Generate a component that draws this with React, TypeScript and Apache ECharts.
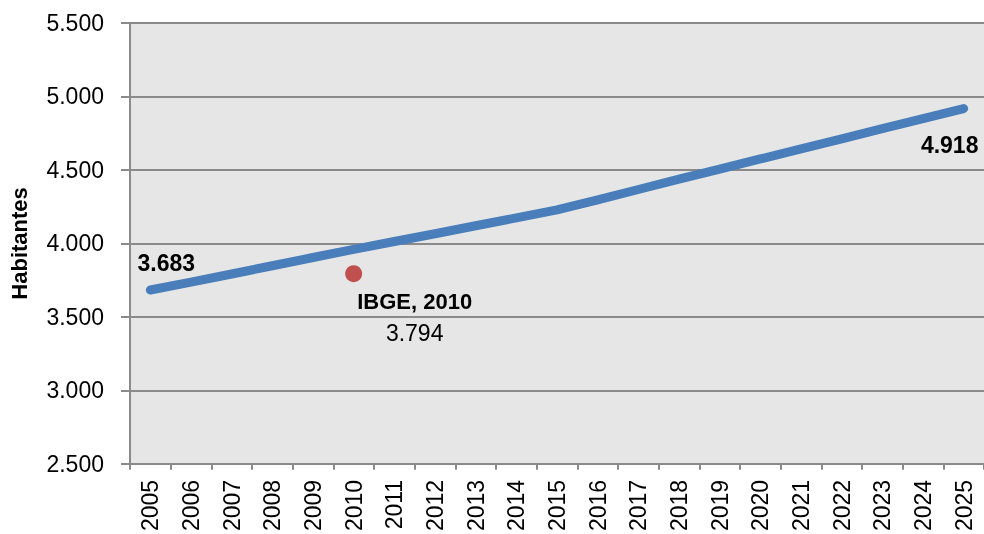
import React, { useEffect, useRef } from "react";
import * as echarts from "echarts";

const years = ["2005","2006","2007","2008","2009","2010","2011","2012","2013","2014","2015","2016","2017","2018","2019","2020","2021","2022","2023","2024","2025"];
const population = [3683,3737,3792,3848,3904,3960,4013,4066,4120,4174,4228,4297,4367,4437,4506,4575,4643,4712,4781,4849,4918];
const censusYear = "2010";
const censusValue = 3794;
const censusLabel = "IBGE, 2010";
const yTicks = { min: 2500, max: 5500, interval: 500 };

const fmt = (v: number) => String(v).replace(/\B(?=(\d{3})+(?!\d))/g, ".");

export default function App() {
  const ref = useRef<HTMLDivElement>(null);
  useEffect(() => {
    if (!ref.current) return;
    const chart = echarts.init(ref.current, null, { renderer: "svg" });
    const font = "Liberation Sans";
    const last = population.length - 1;
    const lineData = population.map((v, i) => {
      if (i === 0) {
        return { value: v, label: { show: true, position: "top", formatter: fmt(v), fontWeight: "bold", fontSize: 23, color: "#000", fontFamily: font } };
      }
      if (i === last) {
        return { value: v, label: { show: true, position: "bottom", formatter: fmt(v), fontWeight: "bold", fontSize: 23, color: "#000", fontFamily: font } };
      }
      return { value: v };
    });
    chart.setOption({
      animation: false,
      grid: { left: 130, top: 23, width: 860, height: 441, show: true, backgroundColor: "#e6e6e6", borderWidth: 0 },
      xAxis: {
        type: "category",
        data: years,
        boundaryGap: true,
        axisLine: { show: true, lineStyle: { color: "#8a8a8a", width: 2 } },
        axisTick: { show: true, length: 6, interval: 0, lineStyle: { color: "#8a8a8a", width: 2 } },
        axisLabel: { interval: 0, rotate: 90, fontSize: 23, color: "#000", fontFamily: font, margin: 16 },
        splitLine: { show: false },
      },
      yAxis: {
        type: "value",
        min: yTicks.min,
        max: yTicks.max,
        interval: yTicks.interval,
        name: "Habitantes",
        nameLocation: "middle",
        nameRotate: 90,
        nameGap: 100,
        nameTextStyle: { fontSize: 22, fontWeight: "bold", color: "#000", fontFamily: font },
        axisLine: { show: true, lineStyle: { color: "#8a8a8a", width: 2 } },
        axisTick: { show: true, length: 9, lineStyle: { color: "#8a8a8a", width: 2 } },
        axisLabel: { fontSize: 23, color: "#000", fontFamily: font, margin: 26, formatter: (v: number) => fmt(v) },
        splitLine: { show: true, lineStyle: { color: "#8a8a8a", width: 2 } },
      },
      series: [
        {
          type: "line",
          data: lineData,
          showSymbol: true,
          symbol: "circle",
          symbolSize: 1,
          itemStyle: { color: "#4a7ebb" },
          lineStyle: { color: "#4a7ebb", width: 9, cap: "round", join: "round" },
          label: { show: false },
          labelLayout: (p: any) => (p.dataIndex === 0 ? { dx: 16, dy: -10, hideOverlap: false } : { dx: -14, dy: 19, hideOverlap: false }),
          z: 2,
        },
        {
          type: "scatter",
          data: [[censusYear, censusValue]],
          symbolSize: 17,
          itemStyle: { color: "#c0504d", opacity: 1 },
          label: {
            show: true,
            position: "bottom",
            align: "center",
            formatter: () => `{b|${censusLabel}}\n{n|${fmt(censusValue)}}`,
            rich: {
              b: { fontSize: 22, fontWeight: "bold", color: "#000", fontFamily: font, lineHeight: 32, align: "center" },
              n: { fontSize: 23, color: "#000", fontFamily: font, lineHeight: 32, align: "center" },
            },
          },
          labelLayout: { dx: 61, dy: -2 },
          z: 3,
        },
      ],
    });
    return () => chart.dispose();
  }, []);
  return <div ref={ref} style={{ position: "fixed", left: 0, top: 0, width: 984, height: 534 }} />;
}
